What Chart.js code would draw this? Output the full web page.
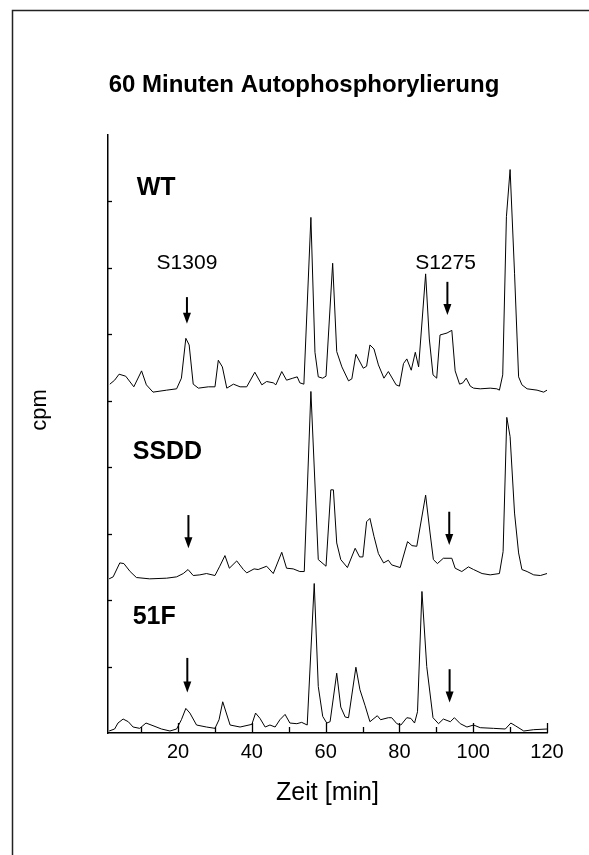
<!DOCTYPE html>
<html>
<head>
<meta charset="utf-8">
<script src="https://cdn.jsdelivr.net/npm/chart.js@4.4.1/dist/chart.umd.min.js"></script>
<style>
html,body{margin:0;padding:0;background:#fff;}
#wrap{width:589px;height:855px;}
</style>
</head>
<body>
<div id="wrap"><canvas id="c" width="589" height="855"></canvas></div>
<script>
// ---- data ----
const titleText = '60 Minuten Autophosphorylierung';
const xTitle = 'Zeit [min]';
const yTitle = 'cpm';
const xTickValues = [10,20,30,40,50,60,70,80,90,100,110,120];
const xLabelValues = [20,40,60,80,100,120];
const yTickValues = [100,200,300,400,500,600,700,800];

const timeWT = [1.5,2.8,4,5.8,8,10.1,11.4,13.2,16.9,19.6,20.9,22.1,23,24.1,25.5,28.2,30,30.9,32,33.2,35,36.8,38.6,40.8,42.7,44,45.8,46.5,48.1,49.4,51.1,52.3,53,54.1,56,57.1,58,59.2,60.1,61.9,63,64.4,66.2,67.1,68.2,70.2,71.1,72,73.1,74.3,75.8,77,79.1,80,81.1,82,83.2,84.3,85.2,87.1,88.1,89.1,90.1,91,92.9,94.2,95.1,96.3,97.2,98.1,99.2,100.1,101.9,104.6,106.4,107.1,108,109,110,111.2,112.3,113.2,114.6,117.3,119.1,120];
const valuesWT = [12,18,27,24,8,32,11,0,3,5,21,81,71,12,6,8,8,48,38,6,12,8,8,30,11,16,14,11,31,18,21,23,14,12,263,60,23,21,24,194,61,38,17,20,57,36,39,71,65,41,21,31,11,9,43,50,33,60,38,178,80,26,21,86,89,93,32,12,14,21,9,6,5,6,5,3,26,264,335,179,23,11,5,3,0,3];

const timeSSDD = [1.3,2.4,4.2,5.3,7,8.7,12.3,16.9,19.6,21.4,22.7,24.1,25.9,27.7,30,31.3,32.7,33.9,35.9,37.7,38.6,40.6,41.7,44,45.8,48.1,49.4,51.2,53,54.2,56,58,60.1,61.4,62.1,63,64.1,65.9,68,69.2,70.1,71.1,72,73.1,74.3,75.7,77,77.9,80.2,82.2,83.4,84.7,87.1,88.3,89.2,90.3,91.9,94.2,95.1,96.9,98.7,100.1,102.4,104.6,107.1,108.1,109.1,110,111.2,112.3,113.2,114.6,116.4,118.2,120];
const valuesSSDD = [0,3,24,23,11,2,0,1,3,8,14,5,6,8,5,19,35,16,27,14,9,15,14,19,8,40,16,15,11,11,282,29,19,134,134,54,29,17,46,33,33,86,91,64,38,24,28,21,17,56,50,49,126,69,29,23,31,31,16,11,18,14,8,6,8,41,243,214,99,39,14,11,6,5,8];

const time51F = [1.3,2.8,3.7,5.1,6.5,7.8,9.6,11.3,13.2,15.5,17.8,19.6,20.9,22.1,23.2,25,27.7,30,31.1,32.1,34.1,36.8,40,41,42.2,43.6,44.9,46.3,47.6,49,50.3,52.2,53.5,55,56.9,58,59.2,60.3,61.2,63,64.1,65.3,66.2,68.2,69.3,70.7,72,74,74.9,77,77.9,79.3,80.4,82,83.1,84.1,84.9,86.1,87.4,89.1,90.6,91.9,93.8,94.9,96.5,98.3,100.1,101.9,105.5,108.7,110.2,111.4,113.7,116.4,120];
const values51F = [0,3,12,18,14,6,4,12,8,3,0,3,17,34,27,9,6,4,17,44,9,6,10,27,19,6,9,6,17,25,12,11,13,9,222,67,22,12,14,87,36,21,20,96,62,38,14,23,17,20,20,11,9,20,19,12,29,210,97,20,11,18,14,20,11,6,9,5,4,3,12,8,0,2,3];

// vertical stacking offsets of the three traces (cpm units)
const traceNames = ['WT','SSDD','51F'];
const traceOffsets = [513, 232, 3];

// annotations: arrows [x, yTop, yBottom] and labels
const arrows = [[22.4,656,616],[93,679,629],[22.8,328,278],[93.5,333,283],[22.5,113,61],[93.6,96,46]];
const traceLabels = [['WT',8.8,810],['SSDD',7.7,412],['51F',7.7,164]];
const siteLabels = [['S1309',22.4,698],['S1275',92.5,698]];

// ---- build ----
const FONT = "'Liberation Sans', Arial, Helvetica, sans-serif";
function series(t, v, off){ return t.map((x,i)=>({x:x, y:v[i]+off})); }
const seriesData = [series(timeWT, valuesWT, traceOffsets[0]), series(timeSSDD, valuesSSDD, traceOffsets[1]), series(time51F, values51F, traceOffsets[2])];

const overlay = {
  id:'overlay',
  afterDraw(chart){
    const ctx = chart.ctx, xs = chart.scales.x, ys = chart.scales.y;
    ctx.save();
    // frame
    ctx.strokeStyle = '#222'; ctx.lineWidth = 1.5;
    ctx.beginPath(); ctx.moveTo(12.5, 855); ctx.lineTo(12.5, 10.5); ctx.lineTo(589, 10.5); ctx.stroke();
    // inward ticks
    ctx.strokeStyle = '#000'; ctx.lineWidth = 1.3;
    const yb = ys.getPixelForValue(0);
    xTickValues.forEach(v=>{
      const px = Math.round(xs.getPixelForValue(v))+0.5;
      const len = (v % 20 === 0) ? 10 : 6;
      ctx.beginPath(); ctx.moveTo(px, yb); ctx.lineTo(px, yb-len); ctx.stroke();
    });
    const xl = xs.getPixelForValue(1);
    yTickValues.forEach(v=>{
      const py = Math.round(ys.getPixelForValue(v))+0.5;
      ctx.beginPath(); ctx.moveTo(xl, py); ctx.lineTo(xl+4, py); ctx.stroke();
    });
    // arrows
    ctx.fillStyle = '#000'; ctx.strokeStyle = '#000'; ctx.lineWidth = 2;
    arrows.forEach(a=>{
      const px = xs.getPixelForValue(a[0]);
      const pt = ys.getPixelForValue(a[1]);
      const pb = ys.getPixelForValue(a[2]);
      ctx.beginPath(); ctx.moveTo(px, pt); ctx.lineTo(px, pb-9); ctx.stroke();
      ctx.beginPath(); ctx.moveTo(px-4, pb-11); ctx.lineTo(px+4, pb-11); ctx.lineTo(px, pb); ctx.closePath(); ctx.fill();
    });
    // labels
    ctx.textBaseline = 'alphabetic';
    ctx.font = 'bold 25px ' + FONT; ctx.textAlign = 'left';
    traceLabels.forEach(l=>{ ctx.fillText(l[0], xs.getPixelForValue(l[1]), ys.getPixelForValue(l[2])); });
    ctx.font = '21px ' + FONT; ctx.textAlign = 'center';
    siteLabels.forEach(l=>{ ctx.fillText(l[0], xs.getPixelForValue(l[1]), ys.getPixelForValue(l[2])); });
    // y axis title
    ctx.font = '22px ' + FONT; ctx.textAlign = 'center'; ctx.textBaseline = 'middle';
    ctx.translate(40, 410); ctx.rotate(-Math.PI/2); ctx.fillText(yTitle, 0, 0);
    ctx.restore();
  }
};

new Chart(document.getElementById('c'), {
  type:'line',
  data:{ datasets: seriesData.map((d,i)=>({label:traceNames[i], data:d, borderColor:'#000', borderWidth:1, pointRadius:0, fill:false, tension:0})) },
  options:{
    responsive:false, animation:false,
    layout:{padding:{left:61,right:42,top:0,bottom:0}},
    plugins:{
      legend:{display:false}, tooltip:{enabled:false},
      title:{display:true, text:titleText, color:'#000', font:{family:FONT,size:24,weight:'bold'}, padding:{top:70.6,bottom:35.6}}
    },
    scales:{
      x:{type:'linear', min:1, max:120,
         grid:{display:false, drawTicks:false},
         border:{display:true, color:'#000', width:1.5},
         afterBuildTicks:(s)=>{ s.ticks = xTickValues.map(v=>({value:v})); },
         afterFit:(s)=>{ s.height = 122; },
         ticks:{color:'#000', font:{family:FONT,size:20}, padding:7, maxRotation:0, autoSkip:false,
                callback:(v)=> xLabelValues.includes(v) ? String(v) : ''},
         title:{display:true, text:xTitle, color:'#000', font:{family:FONT,size:25}, padding:{top:4,bottom:47}}},
      y:{type:'linear', min:0, max:900,
         grid:{display:false, drawTicks:false},
         border:{display:true, color:'#000', width:1.5},
         afterBuildTicks:(s)=>{ s.ticks = yTickValues.map(v=>({value:v})); },
         afterFit:(s)=>{ s.width = 47; },
         ticks:{display:false},
         title:{display:false}}
    }
  },
  plugins:[overlay]
});
</script>
</body>
</html>
